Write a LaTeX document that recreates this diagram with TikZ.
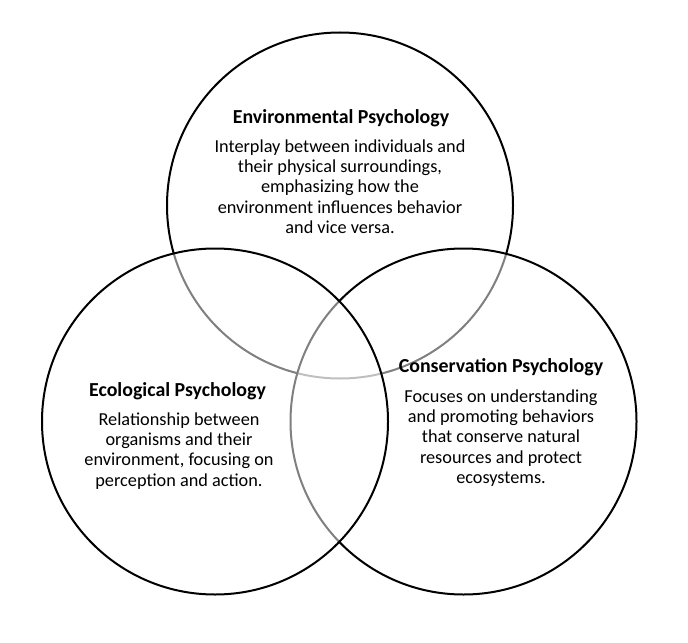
\documentclass[tikz,border=0pt]{standalone}
\usepackage{fontspec}
\setmainfont{Carlito}
\begin{document}
\begin{tikzpicture}[x=0.75pt,y=-0.75pt,
  venn/.style={circle, draw=black, line width=1.5pt, fill=white, fill opacity=0.5, draw opacity=1, minimum size=259.5pt, inner sep=0pt, outer sep=0pt},
  ttl/.style={anchor=base, inner sep=0pt, font=\fontsize{14.9}{18}\selectfont\bfseries},
  body/.style={anchor=north, inner sep=0pt, align=center, font=\fontsize{13.7}{15.2}\selectfont}]
\useasboundingbox (0,0) rectangle (688,642);
\node[venn] (env) at (340,205.5) {};
\node[venn] (cons) at (463.5,421.5) {};
\node[venn] (eco) at (215,421.5) {};
\node[ttl] (envT) at (341,123) {Environmental Psychology};
\node[body] (envB) at (340,139.5) {Interplay between individuals and\\their physical surroundings,\\emphasizing how the\\environment influences behavior\\and vice versa.};
\node[ttl] (ecoT) at (177.5,396) {Ecological Psychology};
\node[body] (ecoB) at (179,412.3) {Relationship between\\organisms and their\\environment, focusing on\\perception and action.};
\node[ttl] (consT) at (501,372.7) {Conservation Psychology};
\node[body] (consB) at (501,389.5) {Focuses on understanding\\and promoting behaviors\\that conserve natural\\resources and protect\\ecosystems.};
\end{tikzpicture}
\end{document}
